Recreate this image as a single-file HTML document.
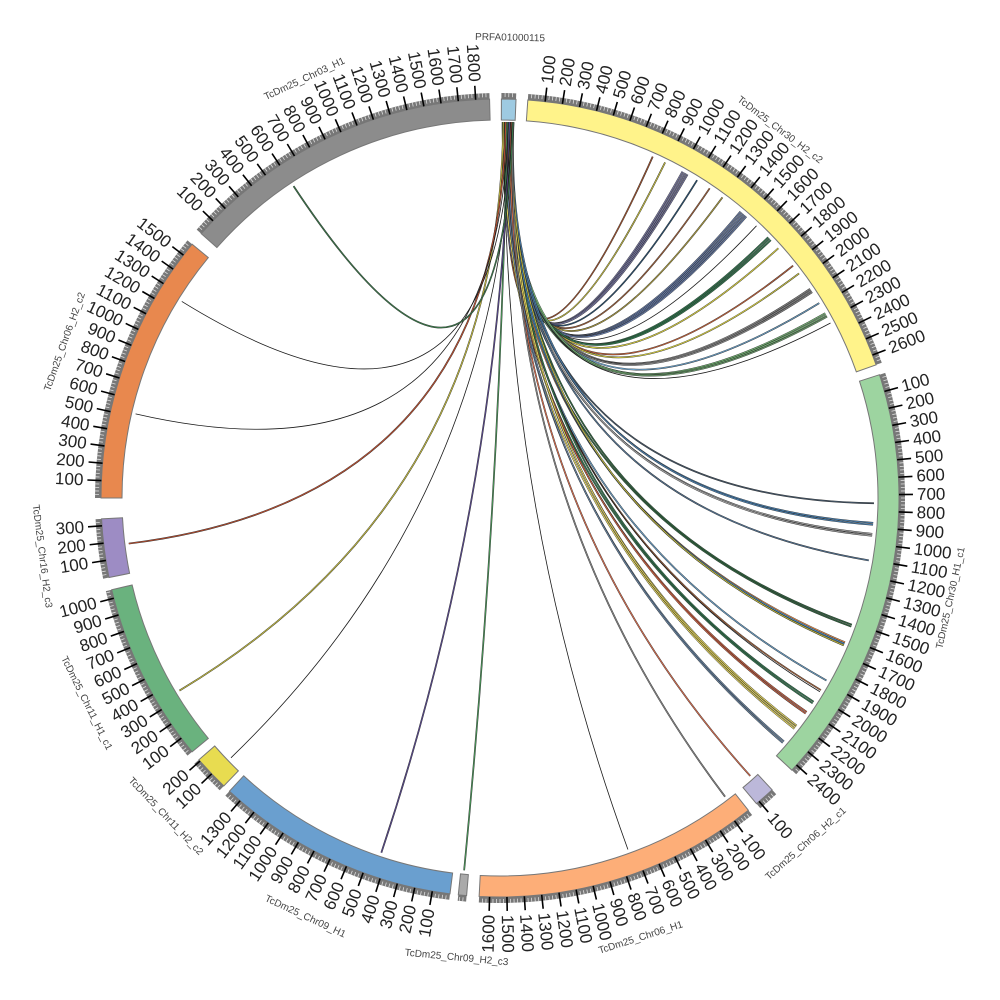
<!DOCTYPE html>
<html><head><meta charset="utf-8"><style>
html,body{margin:0;padding:0;background:#fff;}
svg{display:block;}
text{font-family:"Liberation Sans","DejaVu Sans",sans-serif;}
</style></head><body>
<svg id="s" xmlns="http://www.w3.org/2000/svg" width="1000" height="1000" viewBox="0 0 1000 1000"></svg>
<script>
var cx=500,cy=498,RI=378,RO=399,RG=405;
function pt(r,a){var t=a*Math.PI/180;return [cx+r*Math.sin(t),cy-r*Math.cos(t)];}
function f(v){return v.toFixed(2);}
function sector(r1,r2,a1,a2){
 var p1=pt(r2,a1),p2=pt(r2,a2),p3=pt(r1,a2),p4=pt(r1,a1);var lg=(a2-a1)>180?1:0;
 return "M"+f(p1[0])+","+f(p1[1])+"A"+r2+","+r2+" 0 "+lg+" 1 "+f(p2[0])+","+f(p2[1])+"L"+f(p3[0])+","+f(p3[1])+"A"+r1+","+r1+" 0 "+lg+" 0 "+f(p4[0])+","+f(p4[1])+"Z";}
var segs=[
 ["PRFA01000115","#9ecae1",0.2,2.3,80],
 ["TcDm25_Chr30_H2_c2","#fff38a",4.0,70.5,2660],
 ["TcDm25_Chr30_H1_c1","#9dd4a0",72,133,2440],
 ["TcDm25_Chr06_H2_c1","#bcb8da",137,140,120],
 ["TcDm25_Chr06_H1","#fdae78",141.5,183,1660],
 ["TcDm25_Chr09_H2_c3","#aaaaaa",184.8,186,50],
 ["TcDm25_Chr09_H1","#6a9fcf",187.2,222.7,1380],
 ["TcDm25_Chr11_H2_c2","#e8dc50",223.8,229,210],
 ["TcDm25_Chr11_H1_c1","#6ab27e",230.5,256.7,1050],
 ["TcDm25_Chr16_H2_c3","#9d8cc4",258.5,267,340],
 ["TcDm25_Chr06_H2_c2","#e8884e",270,309.5,1580],
 ["TcDm25_Chr03_H1","#8c8c8c",311.5,358.5,1880]
];
var h="";
var targets=[
 [24.1,"#a0522d",1],[26.2,"#c8c040",1],[29.2,"#7a7aa8",4],[31.8,"#2a5070",1],[34.1,"#a0603a",1],[36.5,"#b0a040",1],
 [40.0,"#6a80b0",5],[43.3,"#333333",1],[45.8,"#2e7d4f",3],[48.1,"#d8d040",1],[51.6,"#c0603a",1],[53.1,"#d8d040",1],
 [56,"#888888",3],[58.6,"#6aa0c8",1],[60.4,"#7ac07a",2],[61,"#6a9a6a",1],[62.1,"#333333",1],
 [90.8,"#445566",1],[93.8,"#4a80b0",2],[95.5,"#aaaaaa",2],[99.6,"#557799",1],
 [109.8,"#2e6a3f",2],[112.7,"#f0904a",1],[112.9,"#4a90c8",2],[113.2,"#c8c040",1],[119.2,"#6aa0c8",1],
 [120.9,"#a0603a",1],[121.2,"#222222",1],[123,"#2e7d4f",2],[124.9,"#d06040",2],[127.5,"#f0e060",3],[130.6,"#6a88a8",2],
 [138,"#e07050",1],[143,"#888888",1],[160,"#222222",1],[185.5,"#4a9a5a",1],[198.5,"#5a4a90",1],
 [226,"#333333",1],[239,"#c8c040",1],[263,"#c05030",1],[283,"#333333",1],[301.7,"#333333",1],[326.5,"#3a7a4a",1]
];
var k=0;
targets.forEach(function(t){
 for(var i=0;i<t[2];i++){
  k++;
  var a0=0.4+((k*0.37)%1.7);
  var at=t[0]+i*0.3;
  var p0=pt(376,a0),p2=pt(374,at);
  var d="M"+f(p0[0])+","+f(p0[1])+"Q"+cx+","+cy+" "+f(p2[0])+","+f(p2[1]);
  if(t[1]=="#333333"||t[1]=="#222222"){
   h+='<path d="'+d+'" fill="none" stroke="#1a1a1a" stroke-width="0.8"/>';
  } else {
   h+='<path d="'+d+'" fill="none" stroke="#2a2a2a" stroke-width="1.7"/>';
   h+='<path d="'+d+'" fill="none" stroke="'+t[1]+'" stroke-width="0.9"/>';
  }
 }
});
segs.forEach(function(s){
 h+='<path d="'+sector(RO,RG,s[2],s[3])+'" fill="#777"/>';
 h+='<path d="'+sector(RI,RO,s[2],s[3])+'" fill="'+s[1]+'" stroke="#777" stroke-width="1"/>';
 var sc=(s[3]-s[2])/s[4];
 for(var u=20;u<s[4];u+=20){ if(u%100==0) continue; var a=s[2]+u*sc;var q1=pt(RO+2,a),q2=pt(RG,a);
  h+='<line x1="'+f(q1[0])+'" y1="'+f(q1[1])+'" x2="'+f(q2[0])+'" y2="'+f(q2[1])+'" stroke="#ddd" stroke-width="0.8"/>';}
 if(s[4]>=100){
  for(var u=100;u<=s[4];u+=100){
   var a=s[2]+u*sc;var q1=pt(RO,a),q2=pt(413,a),q3=pt(417,a);
   h+='<line x1="'+f(q1[0])+'" y1="'+f(q1[1])+'" x2="'+f(q2[0])+'" y2="'+f(q2[1])+'" stroke="#000" stroke-width="1.6"/>';
   var right=(a%360)<180;
   var rot=right?a-90:a+90;
   h+='<text x="'+f(q3[0])+'" y="'+f(q3[1])+'" font-size="17" fill="#222" text-anchor="'+(right?'start':'end')+'" dominant-baseline="central" transform="rotate('+f(rot)+' '+f(q3[0])+' '+f(q3[1])+')">'+u+'</text>';
  }
 }
 var m=(s[2]+s[3])/2;var lr=(s[0]=="PRFA01000115")?460:462;var lp=pt(lr,m);
 var r2=(m>90&&m<270)?m-180:m;
 h+='<text x="'+f(lp[0])+'" y="'+f(lp[1])+'" font-size="10" fill="#444" text-anchor="middle" dominant-baseline="central" transform="rotate('+f(r2)+' '+f(lp[0])+' '+f(lp[1])+')">'+s[0]+'</text>';
});
document.getElementById("s").innerHTML=h;
</script>
</body></html>
